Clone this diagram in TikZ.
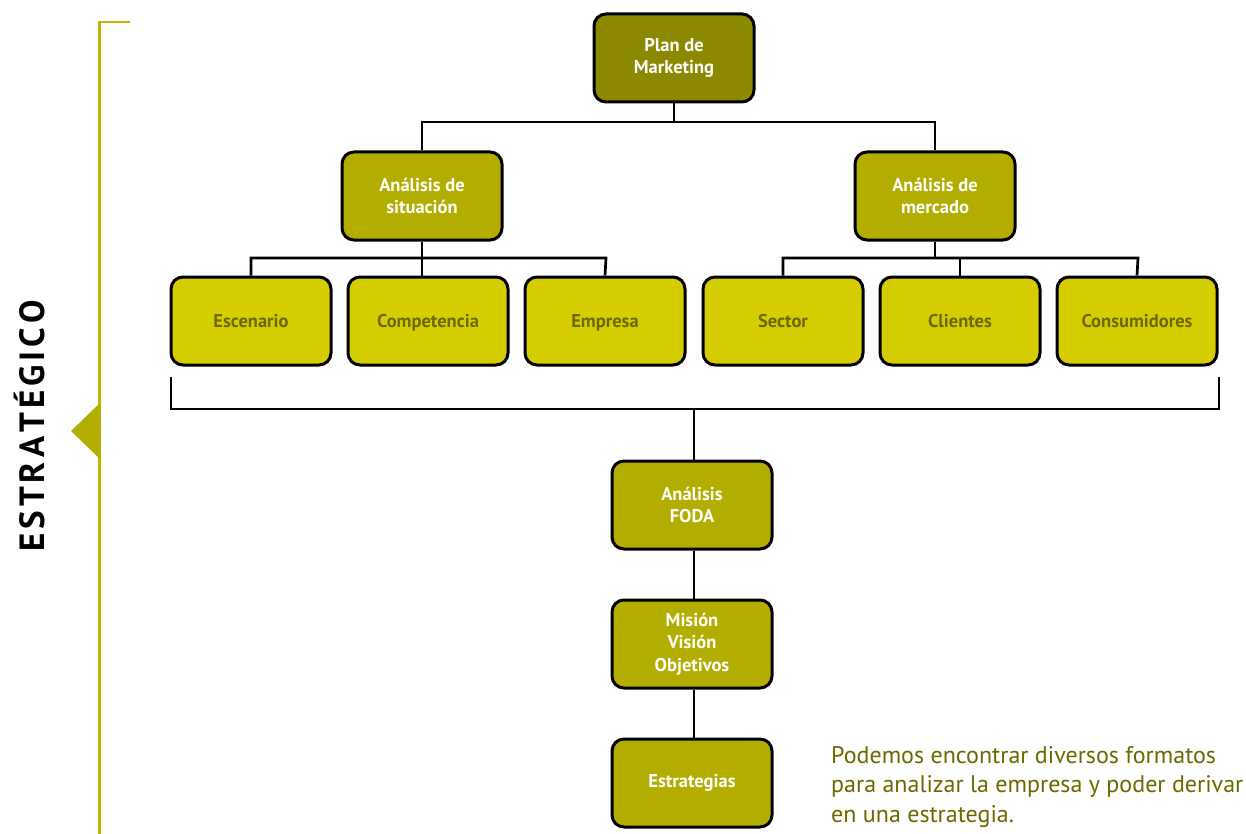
\documentclass[tikz,border=0pt]{standalone}
\usepackage{fontspec}
\setmainfont{PT Sans}[BoldFont={PT Sans Bold}]
\usetikzlibrary{positioning}
\definecolor{lvA}{HTML}{8C8900}
\definecolor{lvB}{HTML}{B3AD00}
\definecolor{lvC}{HTML}{D6CD00}
\definecolor{txtC}{HTML}{6B6800}
\definecolor{sideline}{HTML}{BFB700}
\newcommand{\ls}{\kern4pt}
\begin{document}
\begin{tikzpicture}[x=1pt,y=-1pt,
  box/.style={draw=black,line width=3pt,rounded corners=12pt,minimum width=160pt,minimum height=88pt,align=center,font=\fontsize{18.5}{22.5}\selectfont\bfseries,inner sep=0pt},
  boxA/.style={box,fill=lvA,text=white},
  boxB/.style={box,fill=lvB,text=white},
  boxC/.style={box,fill=lvC,text=txtC,text height=15pt,text depth=3pt},
  conn/.style={draw=black,line width=2.7pt}]
\useasboundingbox (0,0) rectangle (1246,834);
% side bracket
\draw[sideline,line width=2.6pt] (130,22) -- (99.5,22) -- (99.5,840);
\fill[lvB] (71,431) -- (100,403) -- (100,459) -- cycle;
\node[rotate=90,font=\fontsize{35}{44}\selectfont\bfseries,text=black,inner sep=0pt] (side) at (30,426) {E\ls S\ls T\ls R\ls A\ls T\ls É\ls G\ls I\ls C\ls O};
% nodes
\node[boxA] (plan) at (674,58) {Plan de\\Marketing};
\node[boxB] (sit) at (422,196) {Análisis de\\situación};
\node[boxB] (mer) at (935,196) {Análisis de\\mercado};
\node[boxC] (esc) at (251,321) {Escenario};
\node[boxC] (com) at (428,321) {Competencia};
\node[boxC] (emp) at (605,321) {Empresa};
\node[boxC] (sec) at (783,321) {Sector};
\node[boxC] (cli) at (960,321) {Clientes};
\node[boxC] (con) at (1137,321) {Consumidores};
\node[boxB] (foda) at (692,505) {Análisis\\FODA};
\node[boxB] (mis) at (692,644) {Misión\\Visión\\Objetivos};
\node[boxB] (est) at (692,783) {Estrategias};
% connectors
\coordinate (t1) at (674,122);
\draw[conn] (plan.south) -- (t1);
\draw[conn] (sit.north) -- (422,122) -- (935,122) -- (mer.north);
\draw[conn] (sit.south) -- (sit.south|-com.north);
\draw[conn] (esc.north) -- (251,258) -- (606,258) -- (emp.north);
\draw[conn] (mer.south) -- (935,258);
\draw[conn] (sec.north) -- (783,258) -- (1138,258) -- (con.north);
\draw[conn] (cli.north) -- (960,258);
\coordinate (bl) at (171,377);
\coordinate (br) at (1219,377);
\draw[conn] (bl) -- (171,409) -- (1219,409) -- (br);
\draw[conn] (694,409) -- (foda.north-|694,0);
\draw[conn] (foda.south-|694,0) -- (mis.north-|694,0);
\draw[conn] (mis.south-|694,0) -- (est.north-|694,0);
% note
\node[anchor=north west,align=left,text=txtC,font=\fontsize{24}{29.5}\selectfont,inner sep=0pt] (note) at (831,746) {Podemos encontrar diversos formatos\\para analizar la empresa y poder derivar\\en una estrategia.};
\end{tikzpicture}
\end{document}
